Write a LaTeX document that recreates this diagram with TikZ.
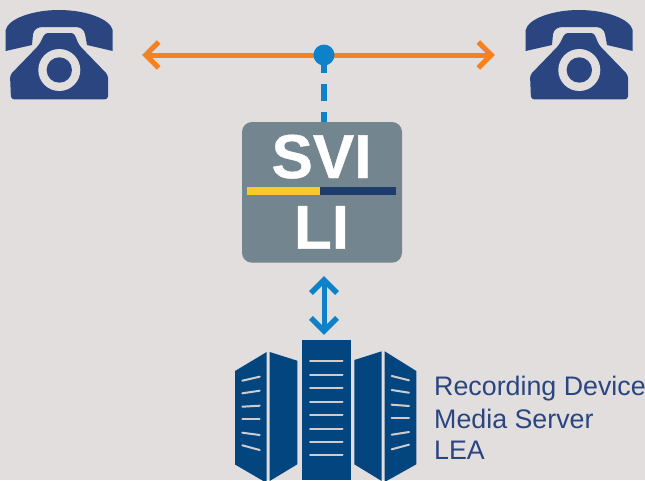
\documentclass[tikz,border=0pt]{standalone}
\usepackage{fontspec}
\setmainfont{Liberation Sans}
\newfontfamily\boxfont[BoldFeatures={FakeBold=0.7}]{Liberation Sans}
\usetikzlibrary{arrows.meta}
\definecolor{bgc}{HTML}{E2DEDE}
\definecolor{phonec}{HTML}{2A4580}
\definecolor{srvc}{HTML}{03467F}
\definecolor{boxc}{HTML}{73858F}
\definecolor{orangec}{HTML}{F58220}
\definecolor{bluec}{HTML}{0F81C9}
\definecolor{yellowc}{HTML}{F8C92C}
\definecolor{navyc}{HTML}{1E3C6B}
\definecolor{textc}{HTML}{2A4580}
\tikzset{
 lined/.style={draw=bgc!92!black,line width=2pt,line cap=round},
 srvpart/.style={fill=srvc},
 boxtext/.style={text=white,font=\boxfont\bfseries\fontsize{62}{62}\selectfont,inner sep=0pt,anchor=base},
 lbl/.style={text=textc,font=\fontsize{26.8}{26.8}\selectfont,inner sep=0pt,anchor=base west},
 hub/.style={circle,fill=bluec,minimum size=21pt,inner sep=0pt},
 pt/.style={inner sep=0pt,minimum size=0pt},
 phone/.pic={
  \fill[phonec] (5.7,51) -- (5.7,30) .. controls (8,19) and (32,10) .. (59,10) .. controls (86,10) and (110,19) .. (112.7,30) -- (112.7,51) -- (87,45) -- (85,34) .. controls (84,29) and (80,27) .. (75,27) -- (43,27) .. controls (38,27) and (34,29) .. (33,34) -- (32,45) -- cycle;
  \fill[phonec,rounded corners=3pt] (45,33) -- (74,33) -- (79,45) -- (108,75) -- (108,99.3) -- (11,99.3) -- (10,75) -- (39,45) -- cycle;
  \fill[bgc] (59.3,70) circle (21);
  \fill[phonec] (59.3,70) circle (12.7);
 }
}
\begin{document}
\begin{tikzpicture}[x=1pt,y=-1pt]
\useasboundingbox (0,0) rectangle (645,480);
\fill[bgc] (0,0) rectangle (645,480);
\pic at (0,0) {phone};
\pic at (520,0) {phone};
\node[pt] (L) at (142,55) {};
\node[pt] (R) at (495,55) {};
\draw[orangec,line width=5pt,{Straight Barb[length=13pt,width=26pt,line width=5pt]}-{Straight Barb[length=13pt,width=26pt,line width=5pt]}] (L) -- (R);
\fill[boxc,rounded corners=10pt] (242,122) rectangle (402,262.7);
\node[hub] (H) at (324,55) {};
\node[pt] (B) at (324,122) {};
\draw[bluec,line width=5.5pt,dash pattern=on 17.5pt off 11pt] (H.center) -- (B);
\fill[yellowc] (247,187) rectangle (320,195);
\fill[navyc] (320,187) rectangle (396,195);
\node[boxtext] (svi) at (321.5,178) {SVI};
\node[boxtext] (li) at (321.5,248.7) {LI};
\node[pt] (T) at (324,276) {};
\node[pt] (D) at (324,335) {};
\draw[bluec,line width=5pt,{Straight Barb[length=13pt,width=26pt,line width=5.5pt]}-{Straight Barb[length=13pt,width=26pt,line width=5.5pt]}] (T) -- (D);
% servers
\fill[srvpart] (301.7,340) rectangle (351,480);
\foreach \y in {361,375,387.7,401.7,415,429,441.7,455.3} \draw[lined] (310,\y) -- (342.5,\y);
\fill[srvpart] (235,371) -- (266.7,352) -- (266.7,483) -- (235,464.5) -- cycle;
\fill[srvpart] (269.7,352) -- (297.3,360.7) -- (297.3,464.3) -- (269.7,481) -- cycle;
\fill[srvpart] (354.3,360) -- (381.7,351.3) -- (381.7,481) -- (354.3,464.3) -- cycle;
\fill[srvpart] (384.7,351.3) -- (416.3,371) -- (416.3,464.3) -- (384.7,482) -- cycle;
\foreach \a/\b in {380.7/376.7,393.3/390.7,406.7/405.7,418.7/418.7,432.7/435,445.3/450} \draw[lined] (242.3,\a) -- (259.7,\b);
\foreach \a/\b in {376/380.3,390/392.7,404.7/406,418/418,434.7/432,449.3/444.7} \draw[lined] (391.7,\a) -- (409,\b);
\node[lbl] (l1) at (434,395.7) {Recording Device};
\node[lbl] (l2) at (434,428) {Media Server};
\node[lbl] (l3) at (434,459.5) {LEA};
\end{tikzpicture}
\end{document}
